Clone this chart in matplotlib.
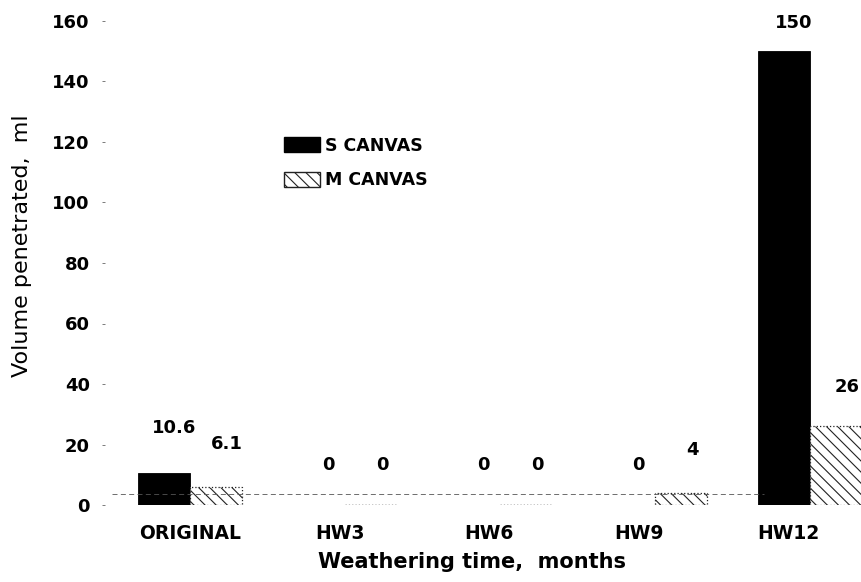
import matplotlib.pyplot as plt
import matplotlib.patches as mpatches
import numpy as np

plt.rcParams['font.family'] = ['DejaVu Sans']
plt.rcParams['font.weight'] = 'bold'
plt.rcParams['axes.labelweight'] = 'bold'
plt.rcParams['hatch.linewidth'] = 0.8

categories = ['ORIGINAL', 'HW3', 'HW6', 'HW9', 'HW12']
s_canvas = [10.6, 0, 0, 0, 150]
m_canvas = [6.1, 0, 0, 4, 26]
s_labels = ['10.6', '0', '0', '0', '150']
m_labels = ['6.1', '0', '0', '4', '26']
y_ticks = [0, 20, 40, 60, 80, 100, 120, 140, 160]

# label offsets above bars (points)
s_off = [29, 25, 25, 25, 16.5]
m_off = [27, 25, 25, 27, 24.5]

fig = plt.figure(figsize=(8.62, 5.82), dpi=100)
ax = fig.add_axes([105 / 862, 77 / 582, 757 / 862, 484 / 582])

x = np.arange(len(categories))
w = 0.335

ax.bar(x - w / 2, s_canvas, w, color='black', edgecolor='black', linewidth=0.6)
ax.bar(x + w / 2, m_canvas, w, color='white', edgecolor='#222222',
       hatch='\\\\\\', linewidth=0.9, linestyle=':')

# faint scan-like baseline
ax.plot([-0.5, 3.7], [3.6, 3.6], color='#555555', lw=0.6, ls=(0, (6, 4)))

for xi, v, lab, off in zip(x, s_canvas, s_labels, s_off):
    ax.annotate(lab, (xi - w / 2, v), xytext=(7, off), textcoords='offset points',
                ha='center', va='baseline', fontsize=13)
for xi, v, lab, off in zip(x, m_canvas, m_labels, m_off):
    ax.annotate(lab, (xi + w / 2, v), xytext=(8, off), textcoords='offset points',
                ha='center', va='baseline', fontsize=13)

ax.set_xlim(-0.548, 4.335)
ax.set_ylim(0, 160)
ax.set_yticks(y_ticks)
ax.set_xticks(x * 0.965)
ax.set_xticklabels(categories)
ax.tick_params(axis='y', length=2, width=0.6, color='#666666', labelsize=13, pad=9)
ax.tick_params(axis='x', length=0, labelsize=13.5, pad=14)
for sp in ax.spines.values():
    sp.set_visible(False)

ax.set_ylabel('Volume penetrated,  ml', fontsize=16, fontweight='normal')
ax.set_xlabel('Weathering time,  months', fontsize=15)
ax.yaxis.set_label_coords(-0.097, 0.535)
ax.xaxis.set_label_coords(0.485, -0.098)

handles = [mpatches.Patch(facecolor='black', edgecolor='black'),
           mpatches.Patch(facecolor='white', edgecolor='#222222', hatch='\\\\\\')]
ax.legend(handles, ['S CANVAS', 'M CANVAS'], loc='upper left',
          bbox_to_anchor=(0.227, 0.775), frameon=False, fontsize=12.5,
          handlelength=2.1, handleheight=0.95, handletextpad=0.3,
          labelspacing=0.95, borderaxespad=0)

fig.savefig('out.png', dpi=100)
